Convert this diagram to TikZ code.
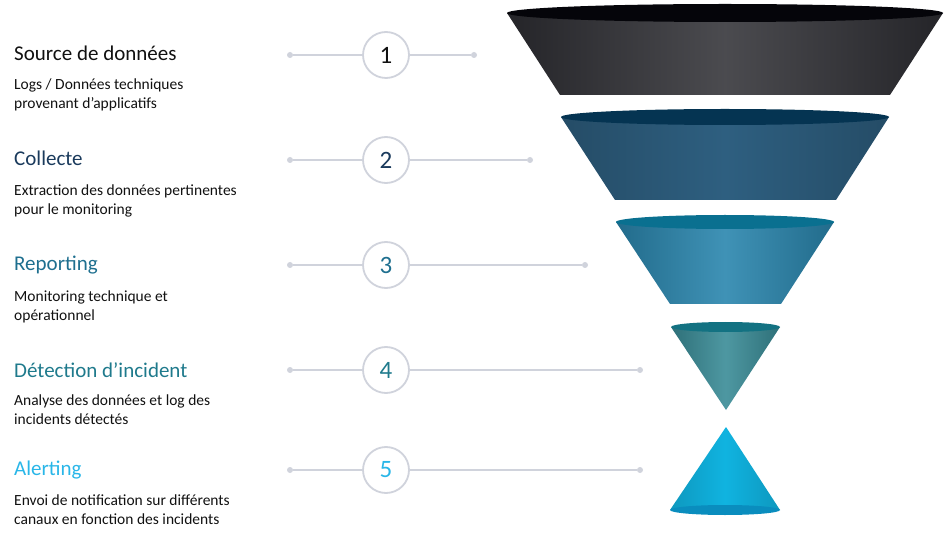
\documentclass[tikz,border=0pt]{standalone}
\usepackage{fontspec}
\setmainfont{Carlito}
\usetikzlibrary{positioning}
\definecolor{linegray}{HTML}{D0D3DC}
\definecolor{coneA}{HTML}{2B2B30}
\definecolor{topA}{HTML}{05050A}
\definecolor{coneB}{HTML}{2E5F80}
\definecolor{topB}{HTML}{053452}
\definecolor{coneC}{HTML}{2A86AE}
\definecolor{topC}{HTML}{0A7090}
\definecolor{coneD}{HTML}{3A8C97}
\definecolor{topD}{HTML}{137282}
\definecolor{coneE}{HTML}{10B3E0}
\definecolor{topE}{HTML}{0A8DBE}
\definecolor{txtA}{HTML}{111111}
\definecolor{txtB}{HTML}{1A3A5C}
\definecolor{txtC}{HTML}{1E6F8F}
\definecolor{txtD}{HTML}{1F7A8C}
\definecolor{txtE}{HTML}{29B6E8}
\tikzset{
  title/.style={anchor=west,font=\fontsize{21}{24}\selectfont,inner sep=0pt},
  sub/.style={anchor=north west,font=\fontsize{15.5}{19}\selectfont,align=left,inner sep=0pt,text=txtA},
  stage/.style={circle,draw=linegray,line width=1.8pt,fill=white,minimum size=46pt,inner sep=0pt,font=\fontsize{25}{28}\selectfont},
  dot/.style={circle,fill=linegray,inner sep=0pt,minimum size=6pt},
  link/.style={draw=linegray,line width=1.5pt}
}
\begin{document}
\begin{tikzpicture}[x=1pt,y=-1pt]
\useasboundingbox (0,0) rectangle (945,537);
% funnel pieces
\shade[left color=coneA!85!black,right color=coneA!85!black,middle color=coneA!85!white] (507,13) -- (560,95) -- (890,95) -- (943,13) -- cycle;
\fill[topA] (725,13) ellipse[x radius=218,y radius=9];
\shade[left color=coneB!80!black,right color=coneB!80!black,middle color=coneB] (561,117) -- (615,200) -- (836,200) -- (889,117) -- cycle;
\fill[topB] (725,117) ellipse[x radius=164,y radius=8];
\shade[left color=coneC!80!black,right color=coneC!80!black,middle color=coneC!90!white] (616,222) -- (670,304) -- (781,304) -- (834,222) -- cycle;
\fill[topC] (725,222) ellipse[x radius=109,y radius=7];
\shade[left color=coneD!80!black,right color=coneD!80!black,middle color=coneD!90!white] (671,327) -- (726,410) -- (780,327) -- cycle;
\fill[topD] (725.5,327) ellipse[x radius=54.5,y radius=5];
\shade[left color=coneE!85!black,right color=coneE!85!black,middle color=coneE] (726,427) -- (670,510) -- (780,510) -- cycle;
\fill[topE] (725,510) ellipse[x radius=55,y radius=5];
% stages
\foreach \n/\y/\xr/\c in {1/55/474/txtA,2/160/530/txtB,3/265/585/txtC,4/370/640/txtD,5/470/640/txtE}{
  \node[dot] (l\n) at (290,\y) {};
  \node[dot] (r\n) at (\xr,\y) {};
  \draw[link] (l\n) -- (r\n);
  \node[stage,text=\c] (s\n) at (386,\y) {\n};
}
\node[title,text=txtA] (t1) at (14,53) {Source de données};
\node[sub] (d1) at (14,79) {Logs / Données techniques\\provenant d’applicatifs};
\node[title,text=txtB] (t2) at (14,158) {Collecte};
\node[sub] (d2) at (14,185) {Extraction des données pertinentes\\pour le monitoring};
\node[title,text=txtC] (t3) at (14,265) {Reporting};
\node[sub] (d3) at (14,291) {Monitoring technique et\\opérationnel};
\node[title,text=txtD] (t4) at (14,370) {Détection d’incident};
\node[sub] (d4) at (14,395) {Analyse des données et log des\\incidents détectés};
\node[title,text=txtE] (t5) at (14,470) {Alerting};
\node[sub] (d5) at (14,495) {Envoi de notification sur différents\\canaux en fonction des incidents};
\end{tikzpicture}
\end{document}
